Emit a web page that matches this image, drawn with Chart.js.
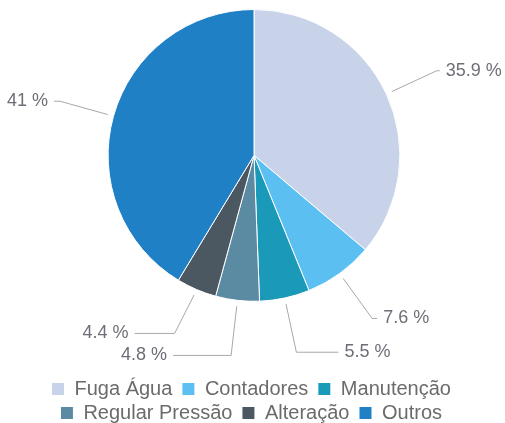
<!DOCTYPE html>
<html lang="pt">
<head>
  <meta charset="UTF-8">
  <title>Ocorrências</title>
  <script src="https://cdn.jsdelivr.net/npm/chart.js"></script>
  <style>
    html, body { margin: 0; padding: 0; background: #fff; }
    .chart-container { width: 505px; height: 423px; }
  </style>
</head>
<body>
  <div class="chart-container">
    <canvas id="pieChart"></canvas>
  </div>

  <script>
    const categories = ['Fuga Água', 'Contadores', 'Manutenção', 'Regular Pressão', 'Alteração', 'Outros'];
    const percentages = [35.9, 7.6, 5.5, 4.8, 4.4, 41];
    const sliceColors = ['#c8d3e9', '#5bbff2', '#1b99b9', '#5b8ba3', '#4b5862', '#1f80c6'];

    // outside labels with elbow leader lines, placed from each arc's own geometry
    const leaderLabels = {
      id: 'leaderLabels',
      afterDatasetsDraw(chart, args, opts) {
        const ctx = chart.ctx;
        const meta = chart.getDatasetMeta(0);
        const items = meta.data.map((arc, i) => {
          const mid = (arc.startAngle + arc.endAngle) / 2;
          const r = arc.outerRadius;
          const c = Math.cos(mid), s = Math.sin(mid);
          return {
            i,
            right: c >= 0,
            sx: arc.x + c * (r + opts.gap),
            sy: arc.y + s * (r + opts.gap),
            ex: arc.x + c * r * opts.elbow,
            ey: arc.y + s * r * opts.elbow
          };
        });

        // push overlapping labels apart (upwards) on each side
        [true, false].forEach(side => {
          const list = items.filter(it => it.right === side).sort((a, b) => a.ey - b.ey);
          for (let k = list.length - 2; k >= 0; k--) {
            if (list[k].ey > list[k + 1].ey - opts.minGap) {
              list[k].ey = list[k + 1].ey - opts.minGap;
            }
          }
        });

        ctx.save();
        ctx.font = opts.font;
        ctx.textBaseline = 'middle';
        items.forEach(it => {
          const hl = opts.leaderLengths[it.i];
          const hx = it.right ? it.ex + hl : it.ex - hl;
          ctx.strokeStyle = opts.lineColor;
          ctx.lineWidth = 1;
          ctx.beginPath();
          ctx.moveTo(it.sx, it.sy);
          ctx.lineTo(it.ex, it.ey);
          ctx.lineTo(hx, it.ey);
          ctx.stroke();

          ctx.fillStyle = opts.color;
          ctx.textAlign = it.right ? 'left' : 'right';
          const tx = it.right ? hx + opts.textGap : hx - opts.textGap;
          ctx.fillText(percentages[it.i] + ' %', tx, it.ey);
        });
        ctx.restore();
      }
    };

    const ctx = document.getElementById('pieChart').getContext('2d');
    new Chart(ctx, {
      type: 'pie',
      data: {
        labels: categories,
        datasets: [{
          data: percentages,
          backgroundColor: sliceColors,
          borderColor: '#ffffff',
          borderWidth: 1
        }]
      },
      options: {
        responsive: true,
        maintainAspectRatio: false,
        animation: false,
        layout: { padding: { top: 9, left: 3, bottom: -10 } },
        plugins: {
          tooltip: { enabled: false },
          legend: {
            display: true,
            position: 'bottom',
            title: {
              display: true,
              text: '',
              font: { size: 1 },
              padding: { top: 72, bottom: 0 }
            },
            labels: {
              boxWidth: 13,
              boxHeight: 13,
              padding: 4,
              color: '#6b6b6b',
              font: { family: 'Liberation Sans, Arial, sans-serif', size: 20 },
              // a trailing space widens the gap between legend entries
              generateLabels(chart) {
                const items = Chart.overrides.pie.plugins.legend.labels.generateLabels(chart);
                items.forEach(it => { it.text = it.text + ' '; });
                return items;
              }
            }
          },
          leaderLabels: {
            gap: 6,
            elbow: 1.38,
            minGap: 22,
            leaderLengths: [3, 5, 42, 58, 40, 6],
            textGap: 6,
            lineColor: '#a8a8a8',
            color: '#6e6e78',
            font: '18px "Liberation Sans", Arial, sans-serif'
          }
        }
      },
      plugins: [leaderLabels]
    });
  </script>
</body>
</html>
